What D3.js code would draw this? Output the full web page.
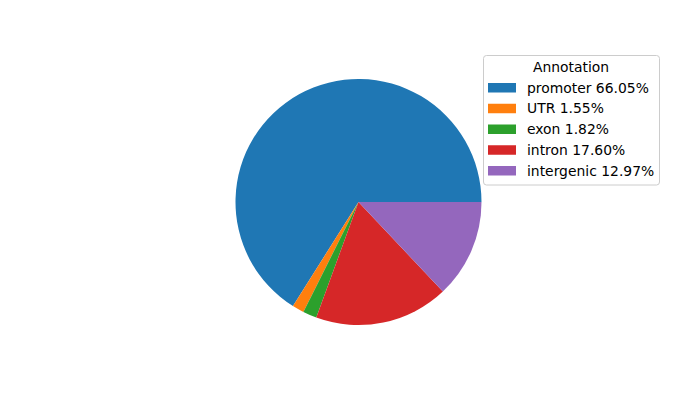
<!DOCTYPE html>
<html><head><meta charset="utf-8">
<script src="https://cdn.jsdelivr.net/npm/d3@7"></script>
<style>body{margin:0;background:#fff}svg{display:block}text{font-family:"DejaVu Sans",sans-serif}</style>
</head><body><svg id="c" width="700" height="400"></svg>
<script>
const categories = ["promoter", "UTR", "exon", "intron", "intergenic"];
const values = [66.05, 1.55, 1.82, 17.60, 12.97];
const colors = ["#1f77b4", "#ff7f0e", "#2ca02c", "#d62728", "#9467bd"];
const legendTitle = "Annotation";

const svg = d3.select("#c");
const cx = 358.5, cy = 202, r = 123;
const pie = d3.pie().sort(null).value(d => d)
  .startAngle(Math.PI / 2).endAngle(Math.PI / 2 - 2 * Math.PI);
const arc = d3.arc().innerRadius(0).outerRadius(r);
const color = d3.scaleOrdinal().domain(categories).range(colors);

svg.append("g").attr("transform", `translate(${cx},${cy})`)
  .selectAll("path").data(pie(values)).join("path")
  .attr("d", arc).attr("fill", (d, i) => color(categories[i]));

// legend
const lg = svg.append("g");
lg.append("rect").attr("x", 483.5).attr("y", 55.5).attr("width", 176).attr("height", 129.5)
  .attr("rx", 3).attr("fill", "#fff").attr("fill-opacity", 0.8).attr("stroke", "#cccccc");
lg.append("text").attr("x", 571).attr("y", 72).attr("text-anchor", "middle")
  .attr("font-size", 13.9).attr("fill", "#000").text(legendTitle);
const rowY = d3.scaleLinear().domain([0, categories.length - 1]).range([87.5, 170.5]);
categories.forEach((c, i) => {
  const y = rowY(i);
  lg.append("rect").attr("x", 488).attr("y", y - 4.5).attr("width", 28).attr("height", 9.5)
    .attr("fill", color(c));
  lg.append("text").attr("x", 527).attr("y", y + 5).attr("font-size", 13.9).attr("fill", "#000")
    .text(`${c} ${values[i].toFixed(2)}%`);
});
</script></body></html>
